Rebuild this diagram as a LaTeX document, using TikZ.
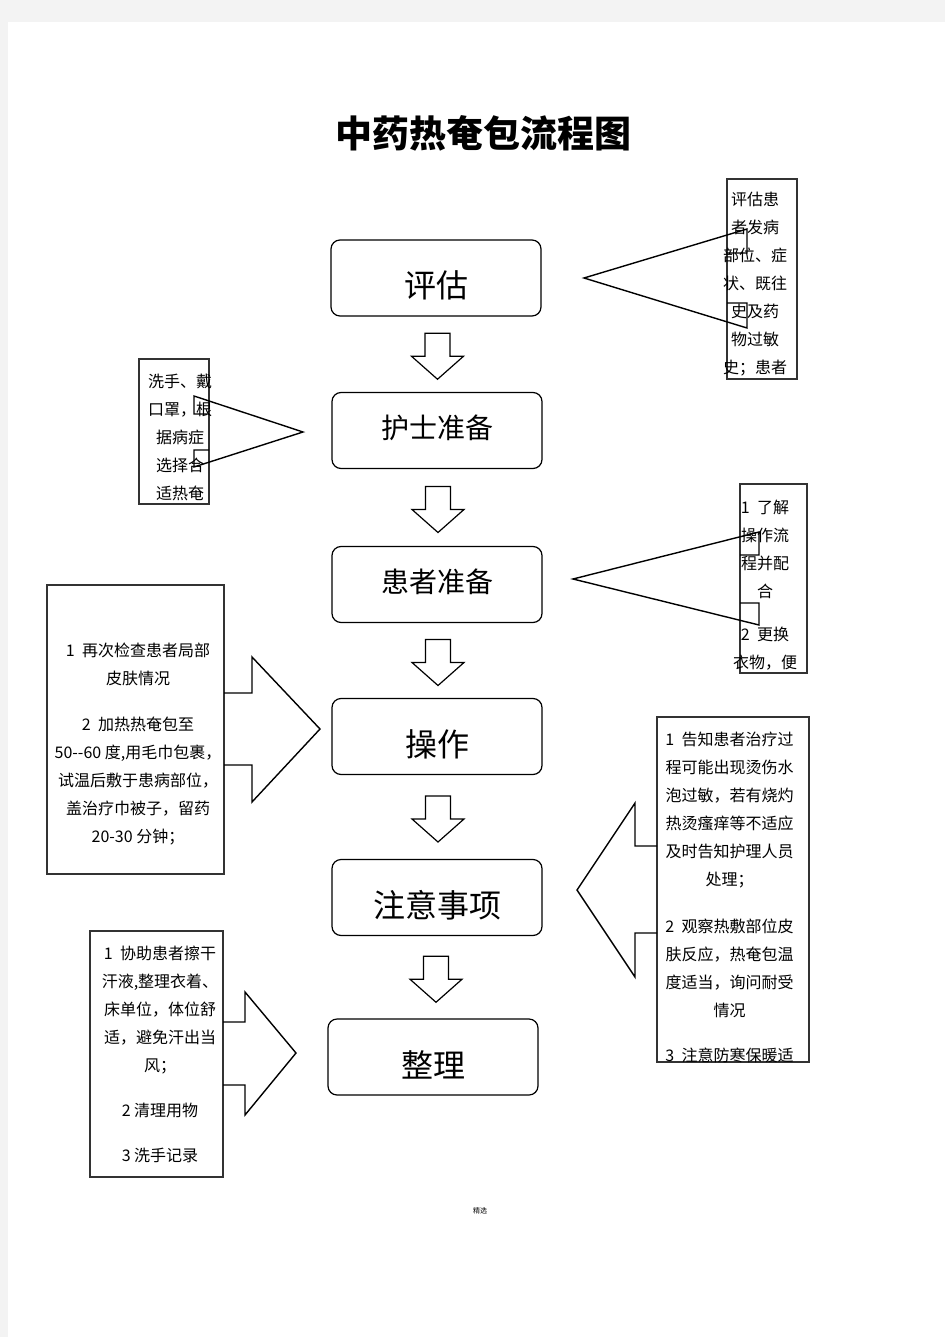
\documentclass[tikz,border=0pt]{standalone}
\usepackage{fontspec}
\setmainfont{Noto Sans CJK SC}
\usetikzlibrary{calc}
\definecolor{pagegray}{RGB}{243,243,243}

\begin{document}
\begin{tikzpicture}[
    x=1pt, y=-1pt,
    every node/.style={font=\fontsize{16}{28}\selectfont},
    stepbox/.style={draw, rounded corners=9pt, line width=1.2pt, minimum width=210pt, minimum height=76pt, inner sep=0pt},
    bigtext/.style={font=\fontsize{32}{32}\selectfont, text height=40pt, text depth=0pt},
    midtext/.style={font=\fontsize{28}{28}\selectfont, text height=20pt, text depth=5pt},
    notebox/.style={draw=black!80, line width=1.3pt, inner sep=0pt},
    notetext/.style={align=center, inner sep=0pt},
    callout/.style={line width=1.4pt, line join=miter},
    blockarrow/.style={draw, line width=1.2pt}
]
% page
\fill[pagegray] (0,0) rectangle (945,1337);
\fill[white] (8,22) rectangle (945,1337);
\useasboundingbox (0,0) rectangle (945,1337);

\node[font=\fontsize{37}{40}\selectfont\bfseries] (title) at (483,133) {中药热奄包流程图};

% main steps
\node[stepbox, bigtext] (pg) at (436,278) {评估};
\node[stepbox, midtext] (hs) at (437,430.5) {护士准备};
\node[stepbox, midtext] (hz) at (437,584.5) {患者准备};
\node[stepbox, bigtext] (cz) at (437,736.5) {操作};
\node[stepbox, bigtext] (zy) at (437,897.5) {注意事项};
\node[stepbox, bigtext] (zl) at (433,1057) {整理};

\foreach \a/\b in {pg/hs, hs/hz, hz/cz, cz/zy, zy/zl}
    \draw[blockarrow, shift={($(\a.south)!0.5!(\b.north)+(1,2)$)}]
        (-12.5,-23) -- (12.5,-23) -- (12.5,0) -- (26,0) -- (0,23) -- (-26,0) -- (-12.5,0) -- cycle;

% note boxes
\node[notebox, minimum width=70pt, minimum height=200pt] (pgnote) at (762,279) {};
\node[notebox, minimum width=70pt, minimum height=145pt] (hsnote) at (174,431.5) {};
\node[notebox, minimum width=67pt, minimum height=189pt] (hznote) at (773.5,578.5) {};
\node[notebox, minimum width=177pt, minimum height=289pt] (cznote) at (135.5,729.5) {};
\node[notebox, minimum width=152pt, minimum height=345pt] (zynote) at (733,889.5) {};
\node[notebox, minimum width=133pt, minimum height=246pt] (zlnote) at (156.5,1054) {};

% callout pointers
\draw[callout] (727,253) -- (747,253) -- (747,229) -- (584,278) -- (747,328) -- (747,303) -- (727,303);
\draw[callout] (209,414) -- (194,414) -- (194,396) -- (303,432) -- (194,467) -- (194,450) -- (209,450);
\draw[callout] (740,555) -- (759,555) -- (759,532) -- (573,579) -- (759,625) -- (759,603) -- (740,603);
\draw[callout] (224,693) -- (252,693) -- (252,657) -- (320,729) -- (252,802) -- (252,765) -- (224,765);
\draw[callout] (657,846) -- (635,846) -- (635,803) -- (577,890) -- (635,977) -- (635,933) -- (657,933);
\draw[callout] (223,1022) -- (245,1022) -- (245,992) -- (296,1053) -- (245,1115) -- (245,1085) -- (223,1085);

% note texts
\node[notetext] (pgtxt) at (755,284.5) {评估患\\者发病\\部位、症\\状、既往\\史及药\\物过敏\\史；患者};
\node[notetext] (hstxt) at (180,437.5) {洗手、戴\\口罩，根\\据病症\\选择合\\适热奄};
\node[notetext] (hztxt) at (765,585.5) {1\ \ 了解\\操作流\\程并配\\合\\[15pt]2\ \ 更换\\衣物，便};
\node[notetext] (cztxt) at (138,744.5) {1\ \ 再次检查患者局部\\皮肤情况\\[18pt]2\ \ 加热热奄包至\\50-{}-60 度,用毛巾包裹，\\试温后敷于患病部位，\\盖治疗巾被子，留药\\20-30 分钟；};
\node[notetext] (zytxt) at (729.5,897.5) {1\ \ 告知患者治疗过\\程可能出现烫伤水\\泡过敏，若有烧灼\\热烫瘙痒等不适应\\及时告知护理人员\\处理；\\[19pt]2\ \ 观察热敷部位皮\\肤反应，热奄包温\\度适当，询问耐受\\情况\\[17pt]3\ \ 注意防寒保暖适};
\node[notetext] (zltxt) at (160,1054.5) {1\ \ 协助患者擦干\\汗液,整理衣着、\\床单位，体位舒\\适，避免汗出当\\风；\\[17pt]2 清理用物\\[17pt]3 洗手记录};

\node[font=\fontsize{7}{7}\selectfont] (foot) at (480,1211) {精选};
\end{tikzpicture}
\end{document}
